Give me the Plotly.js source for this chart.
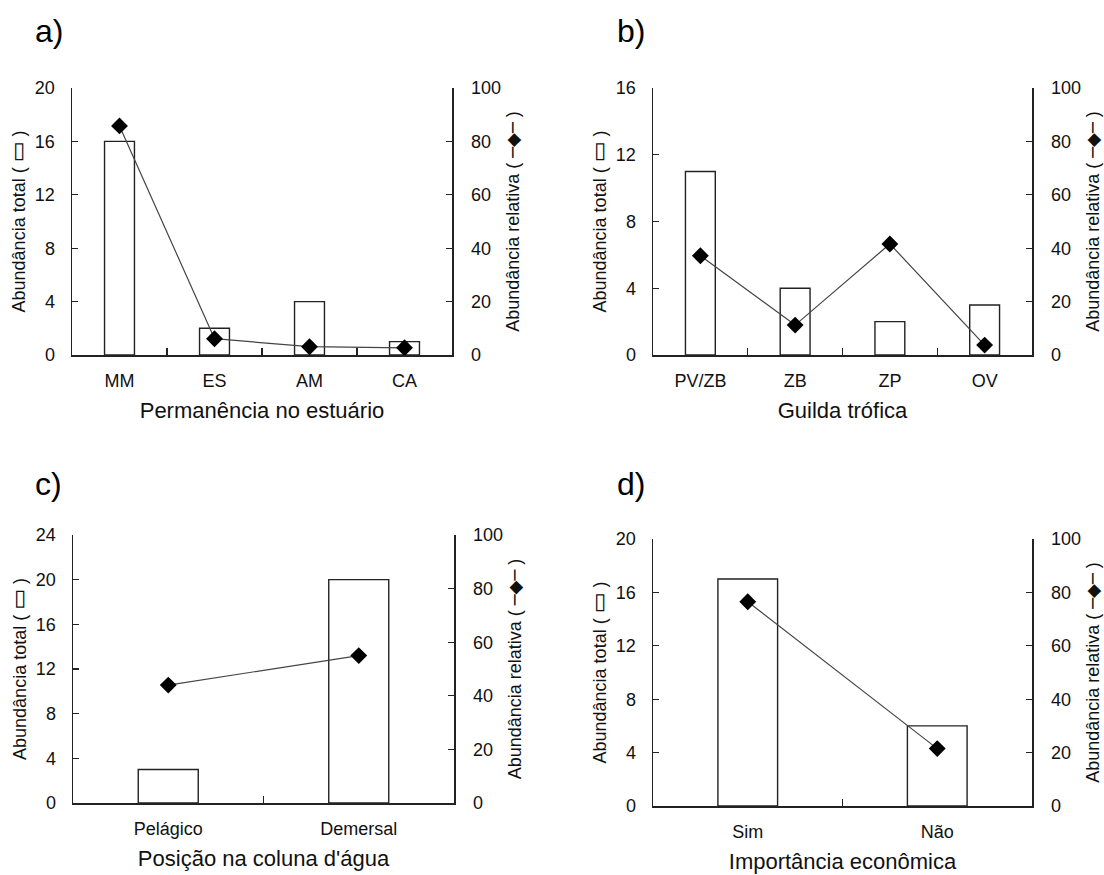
<!DOCTYPE html>
<html>
<head>
<meta charset="utf-8">
<script src="https://cdn.plot.ly/plotly-3.0.1.min.js"></script>
<style>html,body{margin:0;padding:0;background:#fff;}#chart{width:1104px;height:875px;}</style>
</head>
<body>
<div id="chart"></div>
<script>
// ---- data ----
const catsA = ['MM', 'ES', 'AM', 'CA'];
const totalA = [16, 2, 4, 1];
const relA = [85.8, 6.1, 3.1, 2.7];

const catsB = ['PV/ZB', 'ZB', 'ZP', 'OV'];
const totalB = [11, 4, 2, 3];
const relB = [37.2, 11.2, 41.6, 3.7];

const catsC = ['Pelágico', 'Demersal'];
const totalC = [3, 20];
const relC = [44, 55];

const catsD = ['Sim', 'Não'];
const totalD = [17, 6];
const relD = [76.5, 21.5];

const panelLabels = ['a)', 'b)', 'c)', 'd)'];
const xTitles = ['Permanência no estuário', 'Guilda trófica', 'Posição na coluna d\'água', 'Importância econômica'];
const leftTitle = 'Abundância total ( <span style="font-family:DejaVu Sans;font-size:22px">▭</span> )';
const rightTitle = 'Abundância relativa ( <span style="font-family:DejaVu Sans">─◆─</span> )';
const leftMax = [20, 16, 24, 20];

// ---- geometry (pixels) ----
const W = 1104, H = 875;
const boxes = [
  {x0: 72, x1: 452, y0: 88, y1: 355},
  {x0: 653, x1: 1032, y0: 88, y1: 355},
  {x0: 73, x1: 454, y0: 535, y1: 803},
  {x0: 653, x1: 1032, y0: 539, y1: 806}
];
const labelPos = [[33, 31], [615, 31], [33, 484], [615, 484]];

const FONT = 'Liberation Sans, Arial, sans-serif';
const AX = '#222';

const cats = [catsA, catsB, catsC, catsD];
const totals = [totalA, totalB, totalC, totalD];
const rels = [relA, relB, relC, relD];

const data = [];
const layout = {
  width: W, height: H,
  margin: {l: 0, r: 0, t: 0, b: 0},
  paper_bgcolor: '#fff', plot_bgcolor: '#fff',
  showlegend: false,
  bargap: 0.685,
  font: {family: FONT, color: '#111'},
  annotations: []
};

for (let i = 0; i < 4; i++) {
  const xi = i + 1;
  const yl = 2 * i + 1, yr = 2 * i + 2;
  const xname = xi === 1 ? 'x' : 'x' + xi;
  const ylname = yl === 1 ? 'y' : 'y' + yl;
  const yrname = 'y' + yr;
  const b = boxes[i];

  data.push({
    type: 'bar', x: cats[i], y: totals[i], xaxis: xname, yaxis: ylname,
    marker: {color: '#fff', line: {color: '#222', width: 1.4}},
    hoverinfo: 'x+y'
  });
  data.push({
    type: 'scatter', mode: 'lines+markers', x: cats[i], y: rels[i], xaxis: xname, yaxis: yrname,
    line: {color: '#444', width: 1.2},
    marker: {symbol: 'diamond', size: 13, color: '#000'},
    cliponaxis: false
  });

  const xdom = [b.x0 / W, b.x1 / W];
  const ydom = [1 - b.y1 / H, 1 - b.y0 / H];

  layout['xaxis' + (xi === 1 ? '' : xi)] = {
    domain: xdom, anchor: ylname, type: 'category',
    showline: true, linecolor: AX, linewidth: 1.5,
    ticks: 'inside', tickson: 'boundaries', ticklen: 7, tickcolor: AX, tickwidth: 1.3,
    showgrid: false, zeroline: false,
    tickfont: {family: FONT, size: 18, color: '#111'},
    ticklabelstandoff: 9,
    title: {text: xTitles[i], font: {family: FONT, size: 22, color: '#111'}, standoff: 12},
    fixedrange: true
  };
  layout['yaxis' + yl] = {
    domain: ydom, anchor: xname, range: [0, leftMax[i]], dtick: 4,
    showline: true, linecolor: AX, linewidth: 1.5,
    ticks: 'inside', ticklen: 6, tickcolor: AX, tickwidth: 1.3,
    showgrid: false, zeroline: false,
    tickfont: {family: FONT, size: 18, color: '#111'},
    ticklabelstandoff: 12,
    title: {text: leftTitle, font: {family: FONT, size: 18, color: '#111'}, standoff: 4},
    fixedrange: true
  };
  layout['yaxis' + yr] = {
    domain: ydom, anchor: xname, overlaying: ylname, side: 'right', range: [0, 100], dtick: 20,
    showline: true, linecolor: AX, linewidth: 1.5,
    ticks: 'inside', ticklen: 6, tickcolor: AX, tickwidth: 1.3,
    showgrid: false, zeroline: false,
    tickfont: {family: FONT, size: 18, color: '#111'},
    ticklabelstandoff: 14,
    title: {text: rightTitle, font: {family: FONT, size: 18, color: '#111'}, standoff: 6},
    fixedrange: true
  };

  layout.annotations.push({
    xref: 'paper', yref: 'paper',
    x: labelPos[i][0] / W, y: 1 - labelPos[i][1] / H,
    xanchor: 'left', yanchor: 'middle', showarrow: false,
    text: panelLabels[i], font: {family: FONT, size: 32, color: '#000'}
  });
}

Plotly.newPlot('chart', data, layout, {displayModeBar: false, staticPlot: true});
</script>
</body>
</html>
